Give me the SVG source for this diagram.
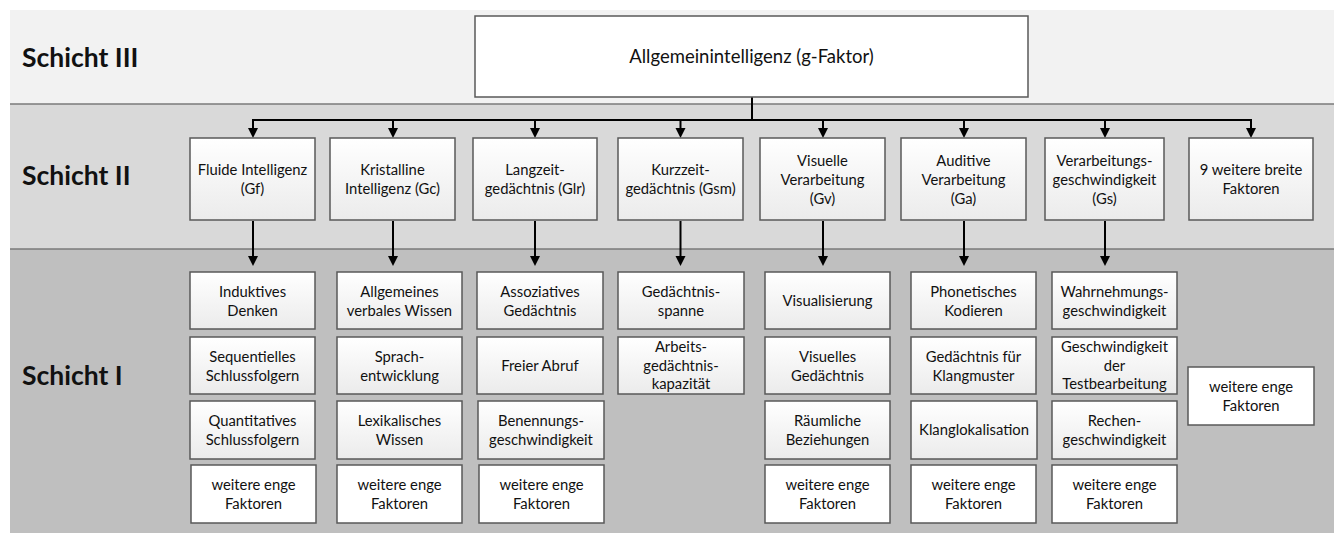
<svg xmlns="http://www.w3.org/2000/svg" width="1338" height="534" viewBox="0 0 1338 534">
<defs>
<linearGradient id="grad" x1="0" y1="0" x2="0" y2="1">
<stop offset="0" stop-color="#ffffff"/>
<stop offset="1" stop-color="#ebebeb"/>
</linearGradient>
<marker id="arr" markerUnits="userSpaceOnUse" markerWidth="11" markerHeight="11" refX="2" refY="5" orient="auto">
<path d="M0,0 L10,5 L0,10 z" fill="#000"/>
</marker>
</defs>
<style>
.band3{fill:#f2f2f2}
.band2{fill:#d9d9d9}
.band1{fill:#bfbfbf}
.sep{stroke:#7a7a7a;stroke-width:1.5}
.box{fill:url(#grad);stroke:#595959;stroke-width:1.5}
.wbox{fill:#ffffff;stroke:#595959;stroke-width:1.5}
.t{font-family:Lato,"Open Sans","Liberation Sans",sans-serif;font-size:14.8px;fill:#111;text-anchor:middle}
.tt{font-family:Lato,"Open Sans","Liberation Sans",sans-serif;font-size:18.5px;fill:#111;text-anchor:middle}
.h{font-family:Lato,"Open Sans","Liberation Sans",sans-serif;font-size:26.5px;font-weight:bold;fill:#111}
.c{stroke:#000;stroke-width:2;fill:none}
.ca{stroke:#000;stroke-width:2;fill:none;marker-end:url(#arr)}
</style>
<rect x="0" y="0" width="1338" height="534" fill="#ffffff"/>
<g id="bands">
<rect class="band3" x="10" y="10" width="1324" height="94"/>
<rect class="band2" x="10" y="104" width="1324" height="145"/>
<rect class="band1" x="10" y="249" width="1324" height="284"/>
<line class="sep" x1="10" y1="104" x2="1334" y2="104"/>
<line class="sep" x1="10" y1="249" x2="1334" y2="249"/>
</g>
<g id="layer-labels">
<text class="h" x="22" y="67">Schicht III</text>
<text class="h" x="22" y="185">Schicht II</text>
<text class="h" x="22" y="385">Schicht I</text>
</g>
<g id="connectors">
<line class="c" x1="752" y1="97" x2="752" y2="120"/>
<line class="c" x1="252" y1="120" x2="1252" y2="120"/>
<line class="ca" x1="253" y1="119" x2="253" y2="130"/>
<line class="ca" x1="393" y1="119" x2="393" y2="130"/>
<line class="ca" x1="535" y1="119" x2="535" y2="130"/>
<line class="ca" x1="680.5" y1="119" x2="680.5" y2="130"/>
<line class="ca" x1="823" y1="119" x2="823" y2="130"/>
<line class="ca" x1="964" y1="119" x2="964" y2="130"/>
<line class="ca" x1="1105" y1="119" x2="1105" y2="130"/>
<line class="ca" x1="1251" y1="119" x2="1251" y2="130"/>
<line class="ca" x1="253" y1="221" x2="253" y2="258"/>
<line class="ca" x1="393" y1="221" x2="393" y2="258"/>
<line class="ca" x1="535" y1="221" x2="535" y2="258"/>
<line class="ca" x1="680.5" y1="221" x2="680.5" y2="258"/>
<line class="ca" x1="823" y1="221" x2="823" y2="258"/>
<line class="ca" x1="964" y1="221" x2="964" y2="258"/>
<line class="ca" x1="1105" y1="221" x2="1105" y2="258"/>
</g>
<g id="g-factor">
<rect class="wbox" x="475" y="16" width="553" height="81"/>
<text class="tt" x="751.5" y="63">Allgemeinintelligenz (g-Faktor)</text>
</g>
<g id="gf">
<rect class="box" x="190" y="138" width="125" height="82"/>
<text class="t"><tspan x="252.5" y="175">Fluide Intelligenz</tspan><tspan x="252.5" y="194">(Gf)</tspan></text>
</g>
<g id="gc">
<rect class="box" x="330" y="138" width="125" height="82"/>
<text class="t"><tspan x="392.5" y="175">Kristalline</tspan><tspan x="392.5" y="194">Intelligenz (Gc)</tspan></text>
</g>
<g id="glr">
<rect class="box" x="473" y="138" width="124" height="82"/>
<text class="t"><tspan x="535" y="175">Langzeit-</tspan><tspan x="535" y="194">gedächtnis (Glr)</tspan></text>
</g>
<g id="gsm">
<rect class="box" x="618" y="138" width="125" height="82"/>
<text class="t"><tspan x="680.5" y="175">Kurzzeit-</tspan><tspan x="680.5" y="194">gedächtnis (Gsm)</tspan></text>
</g>
<g id="gv">
<rect class="box" x="760" y="138" width="125" height="82"/>
<text class="t"><tspan x="822.5" y="165.5">Visuelle</tspan><tspan x="822.5" y="184.5">Verarbeitung</tspan><tspan x="822.5" y="203.5">(Gv)</tspan></text>
</g>
<g id="ga">
<rect class="box" x="901" y="138" width="125" height="82"/>
<text class="t"><tspan x="963.5" y="165.5">Auditive</tspan><tspan x="963.5" y="184.5">Verarbeitung</tspan><tspan x="963.5" y="203.5">(Ga)</tspan></text>
</g>
<g id="gs">
<rect class="box" x="1045" y="138" width="119" height="82"/>
<text class="t"><tspan x="1104.5" y="165.5">Verarbeitungs-</tspan><tspan x="1104.5" y="184.5">geschwindigkeit</tspan><tspan x="1104.5" y="203.5">(Gs)</tspan></text>
</g>
<g id="broad-other">
<rect class="box" x="1189" y="138" width="124" height="82"/>
<text class="t"><tspan x="1251" y="175">9 weitere breite</tspan><tspan x="1251" y="194">Faktoren</tspan></text>
</g>
<g id="gf-1"><rect class="box" x="190" y="272" width="125" height="57"/><text class="t"><tspan x="252.5" y="296.5">Induktives</tspan><tspan x="252.5" y="315.5">Denken</tspan></text></g>
<g id="gf-2"><rect class="box" x="190" y="337" width="125" height="57"/><text class="t"><tspan x="252.5" y="361.5">Sequentielles</tspan><tspan x="252.5" y="380.5">Schlussfolgern</tspan></text></g>
<g id="gf-3"><rect class="box" x="190" y="401" width="125" height="58"/><text class="t"><tspan x="252.5" y="425.5">Quantitatives</tspan><tspan x="252.5" y="444.5">Schlussfolgern</tspan></text></g>
<g id="gf-4"><rect class="wbox" x="191" y="465" width="125" height="58"/><text class="t"><tspan x="253.5" y="489.5">weitere enge</tspan><tspan x="253.5" y="508.5">Faktoren</tspan></text></g>
<g id="gc-1"><rect class="box" x="337" y="272" width="125" height="57"/><text class="t"><tspan x="399.5" y="296.5">Allgemeines</tspan><tspan x="399.5" y="315.5">verbales Wissen</tspan></text></g>
<g id="gc-2"><rect class="box" x="337" y="337" width="125" height="57"/><text class="t"><tspan x="399.5" y="361.5">Sprach-</tspan><tspan x="399.5" y="380.5">entwicklung</tspan></text></g>
<g id="gc-3"><rect class="box" x="337" y="401" width="125" height="58"/><text class="t"><tspan x="399.5" y="425.5">Lexikalisches</tspan><tspan x="399.5" y="444.5">Wissen</tspan></text></g>
<g id="gc-4"><rect class="wbox" x="337" y="465" width="125" height="58"/><text class="t"><tspan x="399.5" y="489.5">weitere enge</tspan><tspan x="399.5" y="508.5">Faktoren</tspan></text></g>
<g id="glr-1"><rect class="box" x="477" y="272" width="126" height="57"/><text class="t"><tspan x="540" y="296.5">Assoziatives</tspan><tspan x="540" y="315.5">Gedächtnis</tspan></text></g>
<g id="glr-2"><rect class="box" x="477" y="337" width="126" height="57"/><text class="t"><tspan x="540" y="371">Freier Abruf</tspan></text></g>
<g id="glr-3"><rect class="box" x="478" y="401" width="126" height="58"/><text class="t"><tspan x="541" y="425.5">Benennungs-</tspan><tspan x="541" y="444.5">geschwindigkeit</tspan></text></g>
<g id="glr-4"><rect class="wbox" x="479" y="465" width="125" height="58"/><text class="t"><tspan x="541.5" y="489.5">weitere enge</tspan><tspan x="541.5" y="508.5">Faktoren</tspan></text></g>
<g id="gsm-1"><rect class="box" x="618" y="272" width="126" height="57"/><text class="t"><tspan x="681" y="296.5">Gedächtnis-</tspan><tspan x="681" y="315.5">spanne</tspan></text></g>
<g id="gsm-2"><rect class="box" x="618" y="337" width="126" height="57"/><text class="t"><tspan x="681" y="351.5">Arbeits-</tspan><tspan x="681" y="370.5">gedächtnis-</tspan><tspan x="681" y="389">kapazität</tspan></text></g>
<g id="gv-1"><rect class="box" x="765" y="272" width="125" height="57"/><text class="t"><tspan x="827.5" y="306">Visualisierung</tspan></text></g>
<g id="gv-2"><rect class="box" x="765" y="337" width="125" height="57"/><text class="t"><tspan x="827.5" y="361.5">Visuelles</tspan><tspan x="827.5" y="380.5">Gedächtnis</tspan></text></g>
<g id="gv-3"><rect class="box" x="765" y="401" width="125" height="58"/><text class="t"><tspan x="827.5" y="425.5">Räumliche</tspan><tspan x="827.5" y="444.5">Beziehungen</tspan></text></g>
<g id="gv-4"><rect class="wbox" x="765" y="465" width="125" height="58"/><text class="t"><tspan x="827.5" y="489.5">weitere enge</tspan><tspan x="827.5" y="508.5">Faktoren</tspan></text></g>
<g id="ga-1"><rect class="box" x="911" y="272" width="125" height="57"/><text class="t"><tspan x="973.5" y="296.5">Phonetisches</tspan><tspan x="973.5" y="315.5">Kodieren</tspan></text></g>
<g id="ga-2"><rect class="box" x="911" y="337" width="125" height="57"/><text class="t"><tspan x="973.5" y="361.5">Gedächtnis für</tspan><tspan x="973.5" y="380.5">Klangmuster</tspan></text></g>
<g id="ga-3"><rect class="box" x="911" y="401" width="126" height="58"/><text class="t"><tspan x="974" y="435">Klanglokalisation</tspan></text></g>
<g id="ga-4"><rect class="wbox" x="911" y="465" width="125" height="58"/><text class="t"><tspan x="973.5" y="489.5">weitere enge</tspan><tspan x="973.5" y="508.5">Faktoren</tspan></text></g>
<g id="gs-1"><rect class="box" x="1052" y="272" width="125" height="57"/><text class="t"><tspan x="1114.5" y="296.5">Wahrnehmungs-</tspan><tspan x="1114.5" y="315.5">geschwindigkeit</tspan></text></g>
<g id="gs-2"><rect class="box" x="1052" y="337" width="125" height="57"/><text class="t"><tspan x="1114.5" y="351.5">Geschwindigkeit</tspan><tspan x="1114.5" y="370.5">der</tspan><tspan x="1114.5" y="389">Testbearbeitung</tspan></text></g>
<g id="gs-3"><rect class="box" x="1052" y="401" width="125" height="58"/><text class="t"><tspan x="1114.5" y="425.5">Rechen-</tspan><tspan x="1114.5" y="444.5">geschwindigkeit</tspan></text></g>
<g id="gs-4"><rect class="wbox" x="1052" y="465" width="125" height="58"/><text class="t"><tspan x="1114.5" y="489.5">weitere enge</tspan><tspan x="1114.5" y="508.5">Faktoren</tspan></text></g>
<g id="other-1"><rect class="wbox" x="1188" y="367" width="126" height="58"/><text class="t"><tspan x="1251" y="391.5">weitere enge</tspan><tspan x="1251" y="410.5">Faktoren</tspan></text></g>
</svg>
